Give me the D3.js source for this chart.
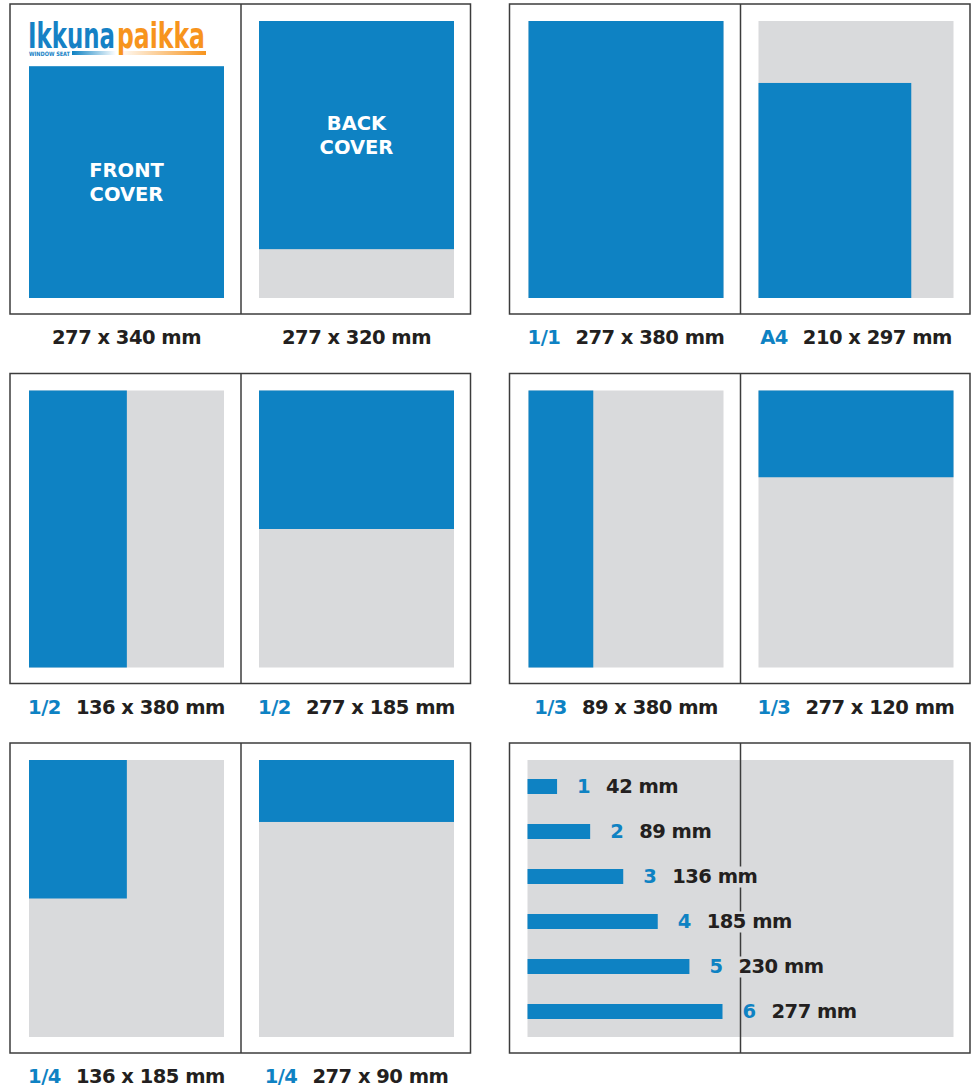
<!DOCTYPE html>
<html>
<head>
<meta charset="utf-8">
<script src="https://cdn.jsdelivr.net/npm/d3@7"></script>
<style>
  body { margin: 0; background: #fff; }
  text { font-family: "DejaVu Sans", "Open Sans", sans-serif; font-weight: 700; }
</style>
</head>
<body>
<div id="chart"></div>
<script>
// ad names, size labels and the drawn size of each ad (mm)
const adNames = ["", "", "1/1", "A4", "1/2", "1/2", "1/3", "1/3", "1/4", "1/4"];
const adLabels = ["277 x 340 mm", "277 x 320 mm", "277 x 380 mm", "210 x 297 mm", "136 x 380 mm",
  "277 x 185 mm", "89 x 380 mm", "277 x 120 mm", "136 x 185 mm", "277 x 90 mm"];
const adWidthMm = [277, 277, 277, 217, 139, 277, 92, 277, 139, 277];
const adHeightMm = [318, 313, 380, 295, 380, 190, 380, 119, 190, 85];
const adAnchor = ["bottom", "top", "top", "bottom", "top", "top", "top", "top", "top", "top"];
const coverTitles = [["FRONT", "COVER"], ["BACK", "COVER"]];

// column widths
const colNames = ["1", "2", "3", "4", "5", "6"];
const colWidthMm = [42, 89, 136, 185, 230, 277];
const colLabels = ["42 mm", "89 mm", "136 mm", "185 mm", "230 mm", "277 mm"];

const blue = "#0e82c3";
const grey = "#d9dadc";
const ink = "#231f20";
const orange = "#f7941d";

const svgWidth = 974;
const svgHeight = 1088;

const spreadX = [10, 509.5];
const rowY = [4, 373.5, 743];
const boxW = 460.5, boxH = 310;
const pageW = 195, pageH = 277;
const pageOffX = [19, 249], pageOffY = 17;
const labelDy = 340;

const xMm = d3.scaleLinear().domain([0, 277]).range([0, pageW]);
const yMm = d3.scaleLinear().domain([0, 380]).range([0, pageH]);

const svg = d3.select("#chart")
  .append("svg")
  .attr("width", svgWidth)
  .attr("height", svgHeight);

// gradients for the masthead underline
const defs = svg.append("defs");
const gBlue = defs.append("linearGradient").attr("id", "gBlue");
gBlue.append("stop").attr("offset", "0%").attr("stop-color", blue);
gBlue.append("stop").attr("offset", "100%").attr("stop-color", "#ffffff");
const gOrange = defs.append("linearGradient").attr("id", "gOrange");
gOrange.append("stop").attr("offset", "0%").attr("stop-color", "#ffffff");
gOrange.append("stop").attr("offset", "100%").attr("stop-color", orange);

// Draw the five ad spreads
for (let s = 0; s < 5; s++) {
  const sx = spreadX[s % 2];
  const sy = rowY[Math.floor(s / 2)];
  const g = svg.append("g").attr("transform", `translate(${sx}, ${sy})`);

  for (let side = 0; side < 2; side++) {
    const i = s * 2 + side;
    const px = pageOffX[side];
    const py = pageOffY;

    if (i !== 0) {
      g.append("rect")
        .attr("x", px).attr("y", py)
        .attr("width", pageW).attr("height", pageH)
        .attr("fill", grey);
    }

    const w = xMm(adWidthMm[i]);
    const h = yMm(adHeightMm[i]);
    const ry = adAnchor[i] === "bottom" ? py + pageH - h : py;
    g.append("rect")
      .attr("x", px).attr("y", ry)
      .attr("width", w).attr("height", h)
      .attr("fill", blue);

    if (i < 2) {
      // one text per line so the boxes don't collide
      coverTitles[i].forEach((line, k) => {
        g.append("text")
          .attr("x", px + w / 2)
          .attr("y", ry + h / 2 - 5 + k * 24)
          .attr("text-anchor", "middle")
          .attr("fill", "#fff")
          .attr("font-size", 19.5)
          .text(line);
      });
    }

    // size label under page
    const lab = g.append("text")
      .attr("x", px + pageW / 2)
      .attr("y", labelDy)
      .attr("text-anchor", "middle")
      .attr("font-size", 19.5)
      .attr("letter-spacing", -0.5);
    if (adNames[i]) {
      lab.append("tspan").attr("fill", blue).text(adNames[i]);
      lab.append("tspan").attr("fill", ink).attr("dx", 15).text(adLabels[i]);
    } else {
      lab.append("tspan").attr("fill", ink).text(adLabels[i]);
    }
  }

  g.append("rect")
    .attr("width", boxW).attr("height", boxH)
    .attr("fill", "none").attr("stroke", "#3c3c3c").attr("stroke-width", 1.5);
  g.append("line")
    .attr("x1", 231).attr("x2", 231)
    .attr("y1", 0).attr("y2", boxH)
    .attr("stroke", "#3c3c3c").attr("stroke-width", 1.5);
}

// Masthead on the front cover
const logo = svg.append("g");
logo.append("rect").attr("x", 72).attr("y", 51).attr("width", 44).attr("height", 4).attr("fill", "url(#gBlue)");
logo.append("rect").attr("x", 117).attr("y", 51).attr("width", 89).attr("height", 4).attr("fill", "url(#gOrange)");
const logoText = logo.append("text")
  .attr("font-family", "'Liberation Sans Narrow', 'DejaVu Sans Condensed', sans-serif");
logoText.append("tspan")
  .attr("x", 28).attr("y", 48)
  .attr("font-size", 36)
  .attr("textLength", 87).attr("lengthAdjust", "spacingAndGlyphs")
  .attr("fill", "#1581c5")
  .text("Ikkuna");
logoText.append("tspan")
  .attr("x", 117).attr("y", 48)
  .attr("font-size", 36)
  .attr("textLength", 88).attr("lengthAdjust", "spacingAndGlyphs")
  .attr("fill", orange)
  .text("paikka");
logoText.append("tspan")
  .attr("x", 29).attr("y", 56)
  .attr("font-size", 6)
  .attr("textLength", 41).attr("lengthAdjust", "spacingAndGlyphs")
  .attr("fill", "#1581c5")
  .text("WINDOW SEAT");

// Column width panel
const cx = spreadX[1], cy = rowY[2];
const colG = svg.append("g");
colG.append("rect")
  .attr("x", cx + pageOffX[0] - 1).attr("y", cy + pageOffY)
  .attr("width", pageOffX[1] + pageW - pageOffX[0] + 1).attr("height", pageH)
  .attr("fill", grey);

const barX = d3.scaleLinear().domain([0, 277]).range([cx + pageOffX[0] - 1, cx + pageOffX[0] - 1 + pageW]);
const barY = d3.scalePoint().domain(colNames).range([cy + 43.5, cy + 268.5]);
const barH = 15;

colG.selectAll("rect.bar")
  .data(colNames)
  .enter()
  .append("rect")
  .attr("class", "bar")
  .attr("x", barX(0))
  .attr("y", d => barY(d) - barH / 2)
  .attr("width", (d, i) => barX(colWidthMm[i]) - barX(0))
  .attr("height", barH)
  .attr("fill", blue);

const numText = colG.selectAll("text.num")
  .data(colNames)
  .enter()
  .append("text")
  .attr("class", "num")
  .attr("x", (d, i) => barX(colWidthMm[i]) + 20)
  .attr("y", d => barY(d) + 6.5)
  .attr("font-size", 19.5)
  .attr("fill", blue)
  .text(d => d);

const sizeText = colG.selectAll("text.size")
  .data(colNames)
  .enter()
  .append("text")
  .attr("class", "size")
  .attr("x", (d, i) => barX(colWidthMm[i]) + 49)
  .attr("y", d => barY(d) + 6.5)
  .attr("font-size", 19.5)
  .attr("letter-spacing", -0.5)
  .attr("fill", ink)
  .text((d, i) => colLabels[i]);

// gutter line, broken where labels cross it
const gx = cx + 231;
let segStart = cy;
const gaps = [];
sizeText.each(function (d) {
  const b = this.getBBox();
  if (b.x < gx && b.x + b.width > gx) gaps.push([barY(d) - 10, barY(d) + 11]);
});
numText.each(function (d) {
  const b = this.getBBox();
  if (b.x < gx && b.x + b.width > gx) gaps.push([barY(d) - 10, barY(d) + 11]);
});
gaps.sort((a, b) => a[0] - b[0]);
const segs = [];
gaps.forEach(gp => { segs.push([segStart, gp[0]]); segStart = gp[1]; });
segs.push([segStart, cy + boxH]);
colG.selectAll("line.gutter")
  .data(segs)
  .enter()
  .append("line")
  .attr("class", "gutter")
  .attr("x1", gx).attr("x2", gx)
  .attr("y1", d => d[0]).attr("y2", d => d[1])
  .attr("stroke", "#3c3c3c").attr("stroke-width", 1.5);

colG.append("rect")
  .attr("x", cx).attr("y", cy)
  .attr("width", boxW).attr("height", boxH)
  .attr("fill", "none").attr("stroke", "#3c3c3c").attr("stroke-width", 1.5);
</script>
</body>
</html>
